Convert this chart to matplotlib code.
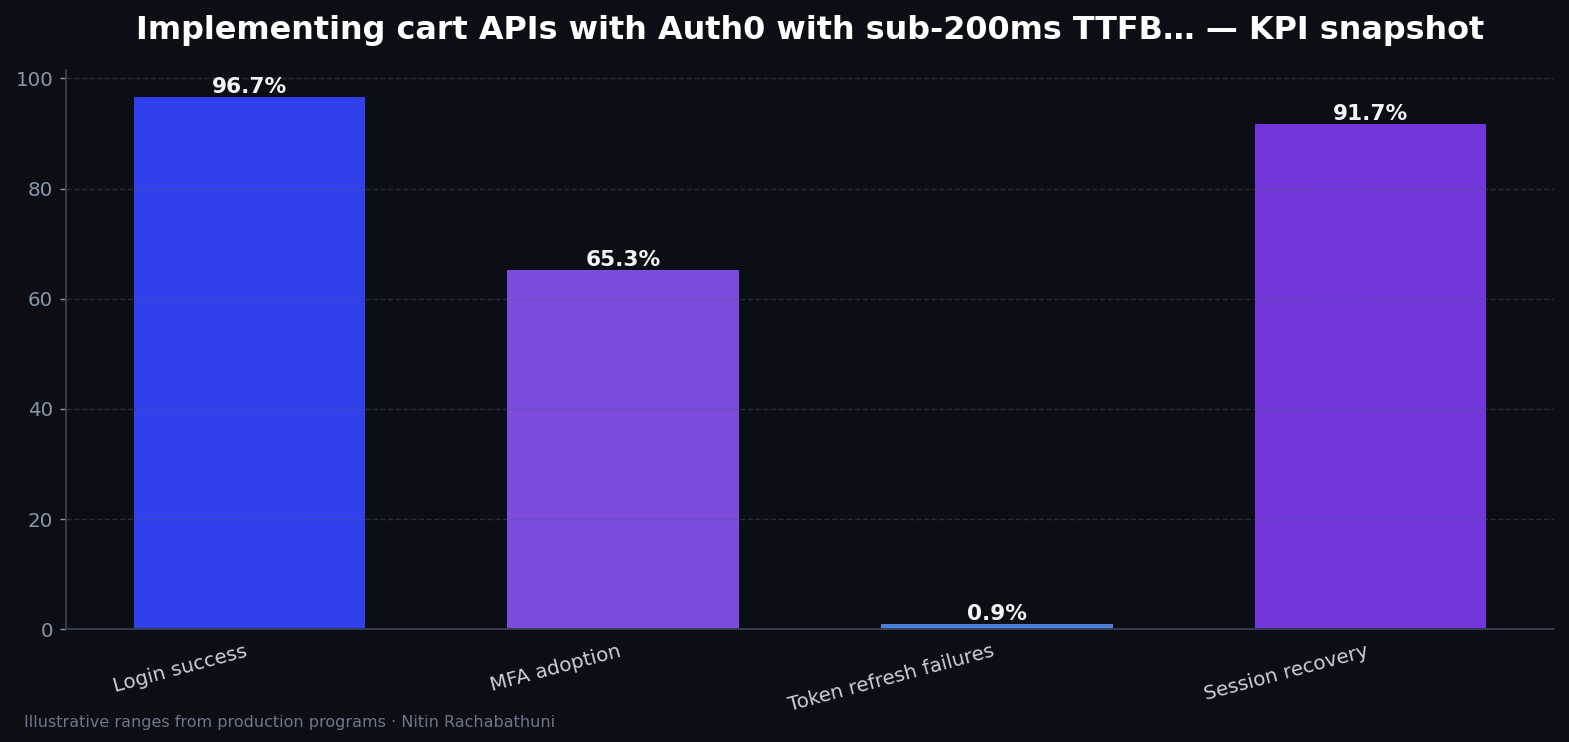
import numpy as np
import matplotlib.pyplot as plt

# KPI snapshot data
categories = ["Login success", "MFA adoption", "Token refresh failures", "Session recovery"]
values = [96.7, 65.3, 0.9, 91.7]
colors = ["#2f40ec", "#7e4cdc", "#4a80dc", "#7236da"]

title = "Implementing cart APIs with Auth0 with sub-200ms TTFB\u2026 \u2014 KPI snapshot"
footer = "Illustrative ranges from production programs \u00b7 Nitin Rachabathuni"

bg = "#0b0e14"
dpi = 130

fig, ax = plt.subplots(figsize=(1569 / dpi, 742 / dpi), dpi=dpi)
fig.patch.set_facecolor(bg)
ax.set_facecolor(bg)

x = np.arange(len(categories))
bars = ax.bar(x, values, width=0.62, color=colors)

ax.set_ylim(0, max(values) * 1.05)

for b, v in zip(bars, values):
    ax.text(b.get_x() + b.get_width() / 2, v, f"{v:.1f}%", ha="center", va="bottom",
            color="#f3f4f6", fontsize=12, fontweight="bold")

ax.set_xticks(x)
ax.set_xticklabels(categories, rotation=15, ha="right", fontsize=11)
ax.tick_params(axis="x", colors="#0b0e14", labelcolor="#c9d1dc")
ax.tick_params(axis="y", colors="#8795a8", labelsize=11)

ax.grid(axis="y", linestyle="--", color="#4b5a70", alpha=0.4, linewidth=0.8)
for s in ["top", "right"]:
    ax.spines[s].set_visible(False)
for s in ["left", "bottom"]:
    ax.spines[s].set_color("#354052")
    ax.spines[s].set_linewidth(1.0)

ax.set_title(title, color="#ffffff", fontsize=17.7, fontweight="bold", pad=17)

fig.text(0.015, 0.02, footer, color="#6b7789", fontsize=8.9)

plt.subplots_adjust(left=0.042, right=0.9904, top=0.9057, bottom=0.152)
plt.savefig("out.png", facecolor=bg)
